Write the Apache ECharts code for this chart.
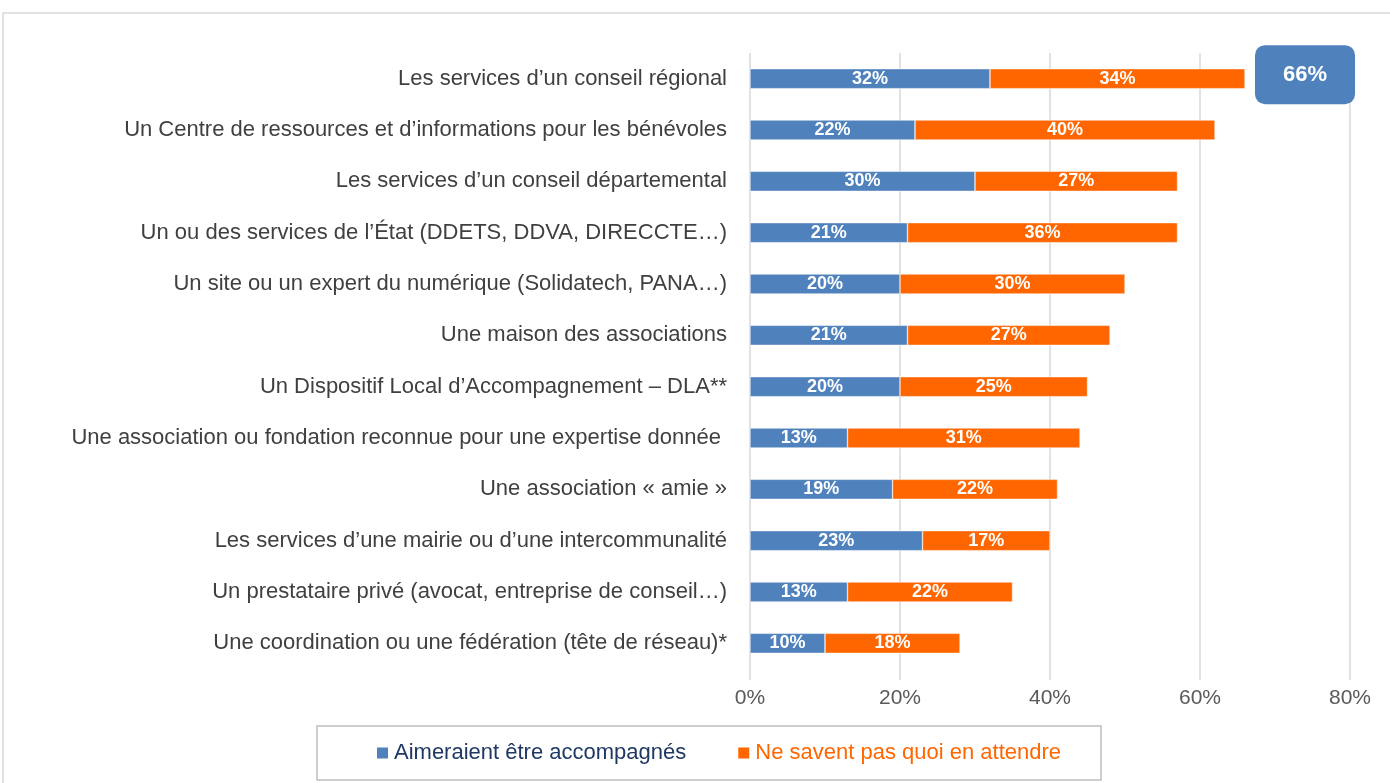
<!DOCTYPE html>
<html>
<head>
<meta charset="utf-8">
<script src="https://cdn.jsdelivr.net/npm/echarts@6/dist/echarts.min.js"></script>
<style>
  html, body { margin: 0; padding: 0; background: #fff; }
  #chart { width: 1390px; height: 783px; }
</style>
</head>
<body>
<div id="chart"></div>
<script>
const categories = [
  "Les services d’un conseil régional",
  "Un Centre de ressources et d’informations pour les bénévoles",
  "Les services d’un conseil départemental",
  "Un ou des services de l’État (DDETS, DDVA, DIRECCTE…)",
  "Un site ou un expert du numérique (Solidatech, PANA…)",
  "Une maison des associations",
  "Un Dispositif Local d’Accompagnement – DLA**",
  "Une association ou fondation reconnue pour une expertise donnée ",
  "Une association « amie »",
  "Les services d’une mairie ou d’une intercommunalité",
  "Un prestataire privé (avocat, entreprise de conseil…)",
  "Une coordination ou une fédération (tête de réseau)*"
];
const accompagnes = [32, 22, 30, 21, 20, 21, 20, 13, 19, 23, 13, 10];
const neSaventPas = [34, 40, 27, 36, 30, 27, 25, 31, 22, 17, 22, 18];
const seriesNames = ["Aimeraient être accompagnés", "Ne savent pas quoi en attendre"];
const xTicks = [0, 20, 40, 60, 80];

const totals = accompagnes.map((v, i) => v + neSaventPas[i]);
const FONT = "Liberation Sans";

const chart = echarts.init(document.getElementById("chart"));

const barLabel = {
  show: true,
  position: "inside",
  color: "#fff",
  fontFamily: FONT,
  fontWeight: "bold",
  fontSize: 18,
  formatter: p => p.value + "%"
};

chart.setOption({
  animation: false,
  textStyle: { fontFamily: FONT },
  graphic: [{
    type: "rect",
    shape: { x: 3, y: 13, width: 1400, height: 800 },
    style: { fill: "none", stroke: "#d9d9d9", lineWidth: 1.5 },
    silent: true,
    z: -1
  }],
  grid: { left: 750, right: 40, top: 53, bottom: 114, containLabel: false },
  legend: {
    data: seriesNames,
    left: 317,
    top: 726,
    padding: [16, 40, 16, 58],
    borderColor: "#bfbfbf",
    borderWidth: 1.5,
    itemWidth: 13,
    itemHeight: 13,
    itemGap: 50,
    icon: "rect",
    formatter: name => name === seriesNames[1] ? "{o|" + name + "}" : "{b|" + name + "}",
    textStyle: {
      fontFamily: FONT, fontSize: 22,
      rich: {
        b: { color: "#1F3864", fontSize: 22, fontFamily: FONT },
        o: { color: "#FF6600", fontSize: 22, fontFamily: FONT }
      }
    }
  },
  xAxis: {
    type: "value",
    min: xTicks[0],
    max: xTicks[xTicks.length - 1],
    interval: 20,
    axisLine: { show: false },
    axisTick: { show: true, length: 11, lineStyle: { color: "#d9d9d9", width: 1.5 } },
    splitLine: { lineStyle: { color: "#d9d9d9", width: 1.5 } },
    axisLabel: { color: "#595959", fontSize: 21, margin: 19, formatter: v => v + "%" }
  },
  yAxis: {
    type: "category",
    data: categories,
    inverse: true,
    axisLine: { show: false },
    axisTick: { show: false },
    axisLabel: { color: "#404040", fontSize: 22, margin: 23 }
  },
  series: [
    {
      name: seriesNames[0],
      type: "bar",
      stack: "total",
      data: accompagnes,
      barWidth: 20,
      itemStyle: { color: "#4F81BD", borderColor: "#fff", borderWidth: 0.5 },
      label: barLabel
    },
    {
      name: seriesNames[1],
      type: "bar",
      stack: "total",
      data: neSaventPas,
      barWidth: 20,
      itemStyle: { color: "#FF6600", borderColor: "#fff", borderWidth: 0.5 },
      label: barLabel
    },
    {
      name: "total",
      type: "bar",
      stack: "total",
      barWidth: 20,
      data: totals.map((t, i) => i === 0 ? {
        value: 0,
        label: {
          show: true,
          position: "right",
          distance: 10,
          offset: [0, -4],
          formatter: () => t + "%",
          backgroundColor: "#4F81BD",
          borderRadius: 10,
          padding: [17, 28],
          lineHeight: 25,
          color: "#fff",
          fontWeight: "bold",
          fontSize: 22,
          fontFamily: FONT
        }
      } : 0),
      itemStyle: { color: "transparent" },
      silent: true
    }
  ]
});
</script>
</body>
</html>
